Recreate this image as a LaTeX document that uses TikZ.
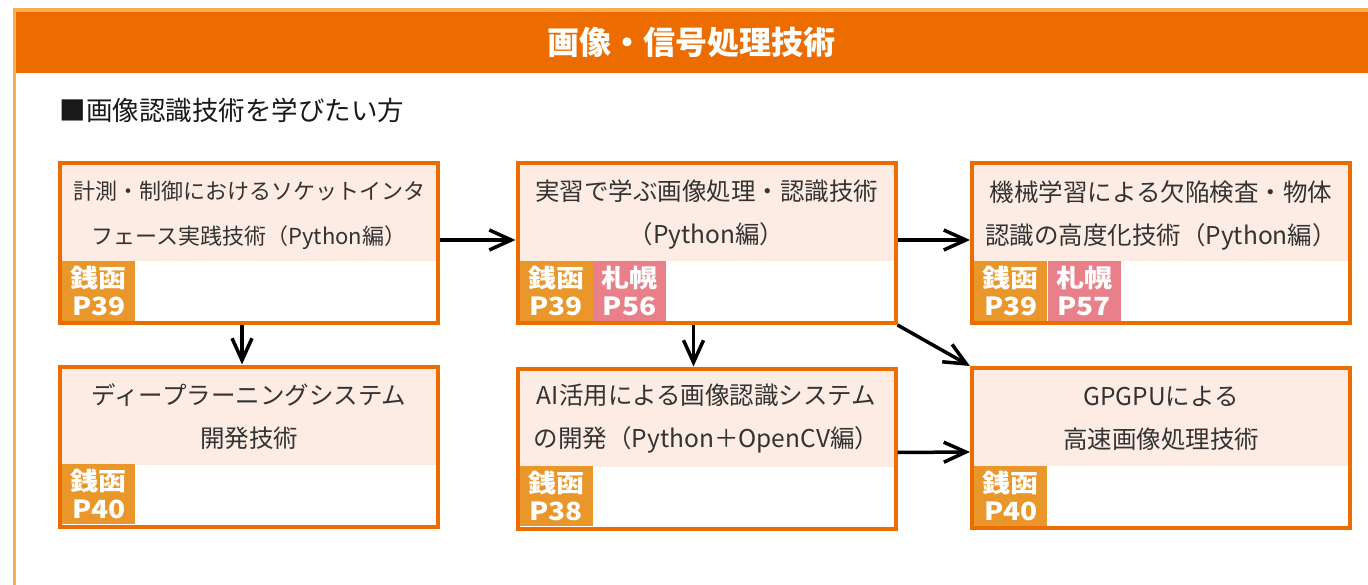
\documentclass[tikz,border=0pt]{standalone}
\usepackage{fontspec}
\setmainfont{Noto Sans CJK JP}
\newfontfamily\tagfont[FakeStretch=1.12]{Noto Sans CJK JP}
\usetikzlibrary{arrows.meta}
\definecolor{hdr}{HTML}{EC6C00}
\definecolor{hdrlight}{HTML}{F6AE50}
\definecolor{bord}{HTML}{EB6D00}
\definecolor{pinkc}{HTML}{FDECE4}
\definecolor{tagor}{HTML}{E9962A}
\definecolor{tagpk}{HTML}{E98089}
\definecolor{txt}{HTML}{333333}
\begin{document}
\begin{tikzpicture}[x=1pt,y=-1pt,
  course/.style={draw=bord, line width=4pt, fill=white, inner sep=0pt,
    minimum width=378pt, minimum height=160pt,
    path picture={\fill[pinkc] (path picture bounding box.north west) rectangle ([yshift=62pt]path picture bounding box.south east);}},
  ctext/.style={text=txt, align=center, font=\fontsize{24.5pt}{43pt}\selectfont},
  tagbox/.style={anchor=south west, inner sep=0pt, minimum width=73pt, minimum height=60pt,
    text=white, align=center, font=\tagfont\fontsize{25pt}{28pt}\selectfont\bfseries},
  zeni/.style={tagbox, fill=tagor},
  sapp/.style={tagbox, fill=tagpk},
  arr/.style={line width=3.5pt, -{Straight Barb[length=22pt,width=20pt,line width=3.5pt]}},
]
\useasboundingbox (0,0) rectangle (1368,585);
\fill[white] (0,0) rectangle (1368,585);
% frame and header
\fill[hdrlight] (13,8) rectangle (1368,12);
\fill[hdrlight] (13,8) rectangle (16,585);
\fill[hdr] (16,12) rectangle (1368,73);
\node[text=white, font=\fontsize{32pt}{36pt}\selectfont\bfseries] (title) at (691,42) {画像・信号処理技術};
\node[anchor=west, text=black!90, font=\fontsize{26.5pt}{30pt}\selectfont] (sub) at (56,110) {■画像認識技術を学びたい方};
% boxes
\node[course] (A) at (249,243) {};
\node[course] (B) at (249,446.5) {};
\node[course] (C) at (706.5,243) {};
\node[course] (D) at (706.5,448.5) {};
\node[course] (E) at (1161,243) {};
\node[course] (F) at (1161,448) {};
% texts
\node[ctext, font=\fontsize{22pt}{45pt}\selectfont] (At) at ([yshift=-54pt]A.north) {計測・制御におけるソケットインタ\\フェース実践技術（Python編）};
\node[ctext] (Bt) at ([yshift=-52pt]B.north) {ディープラーニングシステム\\開発技術};
\node[ctext] (Ct) at ([yshift=-54pt]C.north) {実習で学ぶ画像処理・認識技術\\（Python編）};
\node[ctext] (Dt) at ([yshift=-52pt]D.north) {AI活用による画像認識システム\\の開発（Python＋OpenCV編）};
\node[ctext] (Et) at ([yshift=-54pt]E.north) {機械学習による欠陥検査・物体\\認識の高度化技術（Python編）};
\node[ctext] (Ft) at ([yshift=-52pt]F.north) {GPGPUによる\\高速画像処理技術};
% tags
\node[zeni] (A1) at ([shift={(4pt,4pt)}]A.south west) {銭函\\P39};
\node[zeni] (B1) at ([shift={(4pt,4pt)}]B.south west) {銭函\\P40};
\node[zeni] (C1) at ([shift={(4pt,4pt)}]C.south west) {銭函\\P39};
\node[sapp] (C2) at (C1.south east) {札幌\\P56};
\node[zeni] (D1) at ([shift={(4pt,4pt)}]D.south west) {銭函\\P38};
\node[zeni] (E1) at ([shift={(4pt,4pt)}]E.south west) {銭函\\P39};
\node[sapp] (E2) at (E1.south east) {札幌\\P57};
\node[zeni] (F1) at ([shift={(4pt,4pt)}]F.south west) {銭函\\P40};
% connectors
\draw[arr] ([yshift=3pt]A.east) -- ([yshift=3pt]C.west);
\draw[arr] ([xshift=-7pt]A.south) -- ([xshift=-7pt]B.north);
\draw[arr] ([yshift=3pt]C.east) -- ([yshift=3pt]E.west);
\draw[arr] ([xshift=-13pt]C.south) -- ([xshift=-13pt]D.north);
\draw[arr] (C.south east) -- (F.north west);
\draw[arr] ([yshift=-4pt]D.east) -- ([yshift=-4pt]F.west);
\end{tikzpicture}
\end{document}
